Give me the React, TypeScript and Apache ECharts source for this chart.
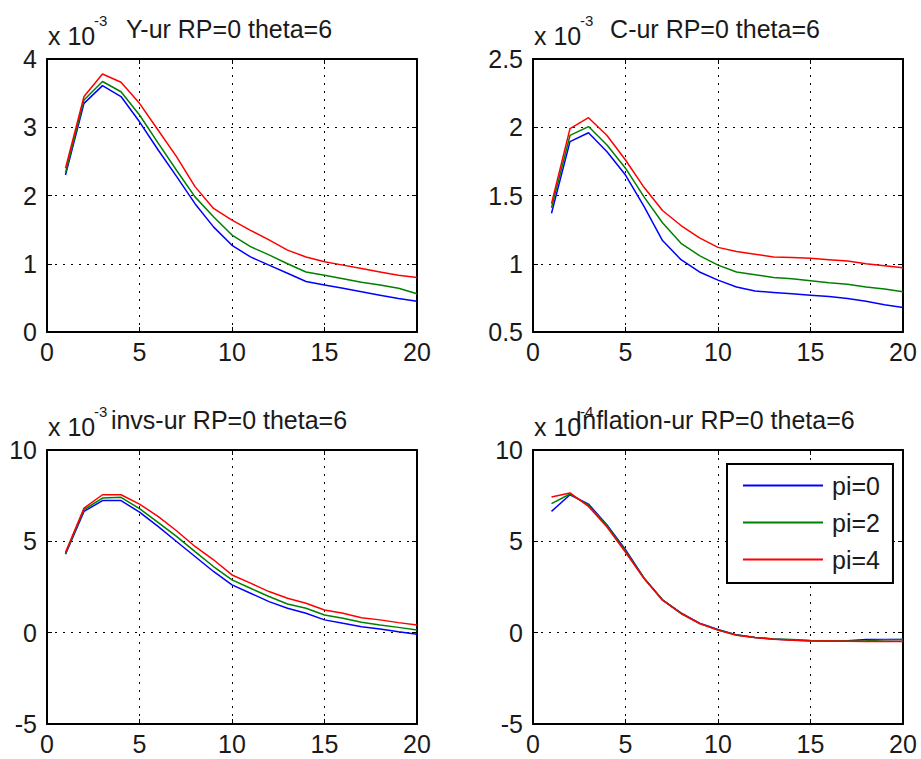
import React, { useEffect, useRef } from "react";
import * as echarts from "echarts";

const periods = [1, 2, 3, 4, 5, 6, 7, 8, 9, 10, 11, 12, 13, 14, 15, 16, 17, 18, 19, 20];
const seriesNames = ["pi=0", "pi=2", "pi=4"];
const seriesColors = ["#0000ff", "#008000", "#ff0000"];

// Y-ur (x 10^-3)
const yurPi0 = [2.30, 3.35, 3.61, 3.45, 3.08, 2.67, 2.28, 1.88, 1.54, 1.27, 1.10, 0.98, 0.86, 0.74, 0.69, 0.64, 0.59, 0.54, 0.49, 0.45];
const yurPi2 = [2.33, 3.40, 3.67, 3.52, 3.18, 2.77, 2.37, 1.98, 1.69, 1.42, 1.25, 1.13, 1.00, 0.88, 0.83, 0.78, 0.73, 0.69, 0.64, 0.56];
const yurPi4 = [2.40, 3.45, 3.78, 3.66, 3.35, 2.96, 2.57, 2.13, 1.81, 1.64, 1.49, 1.35, 1.20, 1.10, 1.03, 0.98, 0.93, 0.88, 0.83, 0.80];

// C-ur (x 10^-3)
const curPi0 = [1.37, 1.895, 1.96, 1.82, 1.65, 1.42, 1.17, 1.03, 0.94, 0.88, 0.83, 0.80, 0.79, 0.78, 0.77, 0.76, 0.745, 0.725, 0.70, 0.68];
const curPi2 = [1.41, 1.94, 2.005, 1.87, 1.70, 1.49, 1.30, 1.15, 1.06, 0.99, 0.94, 0.92, 0.90, 0.89, 0.875, 0.86, 0.85, 0.83, 0.815, 0.795];
const curPi4 = [1.44, 1.99, 2.07, 1.94, 1.76, 1.56, 1.39, 1.28, 1.19, 1.12, 1.09, 1.07, 1.05, 1.045, 1.04, 1.03, 1.02, 1.00, 0.985, 0.97];

// invs-ur (x 10^-3)
const invPi0 = [4.30, 6.64, 7.23, 7.23, 6.60, 5.82, 4.99, 4.17, 3.35, 2.62, 2.16, 1.70, 1.34, 1.06, 0.70, 0.51, 0.33, 0.20, 0.05, -0.09];
const invPi2 = [4.33, 6.73, 7.37, 7.41, 6.79, 6.04, 5.27, 4.44, 3.62, 2.89, 2.43, 1.98, 1.57, 1.34, 0.97, 0.79, 0.57, 0.42, 0.29, 0.15];
const invPi4 = [4.40, 6.82, 7.55, 7.55, 7.04, 6.37, 5.58, 4.72, 3.99, 3.16, 2.71, 2.25, 1.88, 1.61, 1.24, 1.06, 0.82, 0.70, 0.55, 0.42];

// Inflation-ur (x 10^-4)
const infPi0 = [6.64, 7.55, 7.04, 5.90, 4.54, 3.00, 1.80, 1.08, 0.52, 0.17, -0.12, -0.26, -0.35, -0.40, -0.44, -0.45, -0.44, -0.37, -0.37, -0.37];
const infPi2 = [7.06, 7.59, 6.98, 5.85, 4.48, 2.98, 1.79, 1.06, 0.51, 0.15, -0.13, -0.26, -0.34, -0.38, -0.43, -0.45, -0.46, -0.44, -0.39, -0.37];
const infPi4 = [7.43, 7.65, 6.91, 5.78, 4.40, 2.96, 1.78, 1.05, 0.50, 0.14, -0.14, -0.27, -0.36, -0.42, -0.45, -0.46, -0.47, -0.48, -0.48, -0.49];

const xTicks = { min: 0, max: 20, interval: 5 };

const panels = [
  { title: "Y-ur RP=0 theta=6", exponent: "-3", yMin: 0, yMax: 4, yInterval: 1, data: [yurPi0, yurPi2, yurPi4], left: 47, top: 59, width: 370, height: 273 },
  { title: "C-ur RP=0 theta=6", exponent: "-3", yMin: 0.5, yMax: 2.5, yInterval: 0.5, data: [curPi0, curPi2, curPi4], left: 533, top: 59, width: 370, height: 273 },
  { title: "invs-ur RP=0 theta=6", exponent: "-3", yMin: -5, yMax: 10, yInterval: 5, data: [invPi0, invPi2, invPi4], left: 47, top: 450, width: 370, height: 274 },
  { title: "Inflation-ur RP=0 theta=6", exponent: "-4", yMin: -5, yMax: 10, yInterval: 5, data: [infPi0, infPi2, infPi4], left: 533, top: 450, width: 370, height: 274 },
];

const FONT = "'Liberation Sans', Arial, Helvetica, sans-serif";
const FS = 25;
const TXT = "#1a1a1a";

export default function App() {
  const ref = useRef<HTMLDivElement>(null);

  useEffect(() => {
    if (!ref.current) return;
    const chart = echarts.init(ref.current, undefined, { renderer: "svg" });

    const grid: any[] = [];
    const xAxis: any[] = [];
    const yAxis: any[] = [];
    const series: any[] = [];
    const graphic: any[] = [];

    const gridLine = { show: true, lineStyle: { color: "#000", width: 1, type: [2, 6] } };
    const axisLine = { show: true, onZero: false, lineStyle: { color: "#000", width: 2 } };
    const tick = { show: true, inside: true, length: 5, lineStyle: { color: "#000", width: 1 } };
    const label = { show: true, color: TXT, fontSize: FS, fontFamily: FONT };

    panels.forEach((p, gi) => {
      grid.push({ left: p.left, top: p.top, width: p.width, height: p.height, containLabel: false });
      xAxis.push({ type: "value", gridIndex: gi, position: "bottom", ...xTicks, axisLine, axisTick: tick, splitLine: gridLine, axisLabel: { ...label, margin: 7 } });
      xAxis.push({ type: "value", gridIndex: gi, position: "top", ...xTicks, axisLine, axisTick: tick, splitLine: { show: false }, axisLabel: { show: false } });
      yAxis.push({ type: "value", gridIndex: gi, position: "left", min: p.yMin, max: p.yMax, interval: p.yInterval, axisLine, axisTick: tick, splitLine: gridLine, axisLabel: { ...label, margin: 10 } });
      yAxis.push({ type: "value", gridIndex: gi, position: "right", min: p.yMin, max: p.yMax, interval: p.yInterval, axisLine, axisTick: tick, splitLine: { show: false }, axisLabel: { show: false } });

      p.data.forEach((arr, si) => {
        series.push({
          type: "line",
          name: seriesNames[si],
          xAxisIndex: gi * 2,
          yAxisIndex: gi * 2,
          data: periods.map((x, i) => [x, arr[i]]),
          symbol: "none",
          showSymbol: false,
          lineStyle: { color: seriesColors[si], width: 1.5 },
          itemStyle: { color: seriesColors[si] },
          z: 3 + si,
        });
      });

      graphic.push({
        type: "text",
        x: p.left + 1,
        y: p.top - 23,
        style: { text: "x 10", fill: TXT, fontSize: FS, fontFamily: FONT, align: "left", verticalAlign: "middle" },
        z: 10,
      });
      graphic.push({
        type: "text",
        x: p.left + 47,
        y: p.top - 39,
        style: { text: p.exponent, fill: TXT, fontSize: 15, fontFamily: FONT, align: "left", verticalAlign: "middle" },
        z: 10,
      });
      graphic.push({
        type: "text",
        x: p.left + p.width / 2 - 3,
        y: p.top - 30,
        style: { text: p.title, fill: TXT, fontSize: FS, fontFamily: FONT, align: "center", verticalAlign: "middle" },
        z: 11,
      });
    });

    chart.setOption({
      animation: false,
      backgroundColor: "#fff",
      grid,
      xAxis,
      yAxis,
      series,
      graphic,
      legend: {
        data: seriesNames,
        orient: "vertical",
        left: 727,
        top: 464,
        width: 165,
        padding: [9, 13, 11, 16],
        icon: "rect",
        itemWidth: 80,
        itemHeight: 2,
        itemGap: 12,
        backgroundColor: "#fff",
        borderColor: "#000",
        borderWidth: 2,
        borderRadius: 0,
        selectedMode: false,
        textStyle: { color: TXT, fontSize: FS, fontFamily: FONT, padding: [0, 0, 0, 4] },
      },
    });

    return () => chart.dispose();
  }, []);

  return <div ref={ref} style={{ position: "absolute", left: 0, top: 0, width: 921, height: 759 }} />;
}
